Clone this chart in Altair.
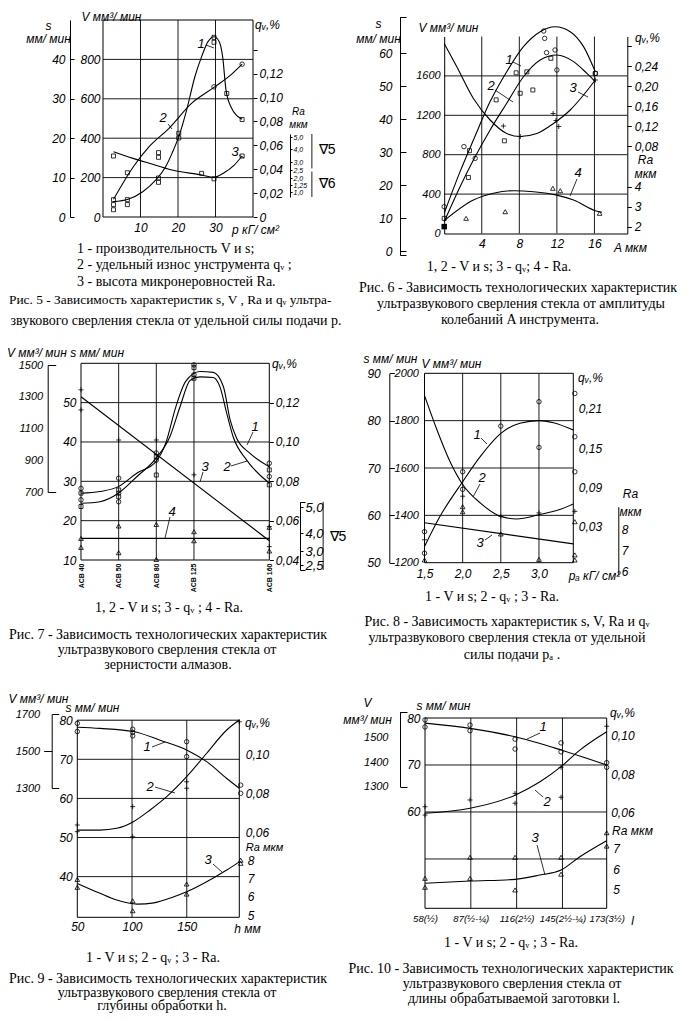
import altair as alt
import pandas as pd

W, H, M = 677, 1005, 8
SANS = "Liberation Sans Narrow, Liberation Sans, Arial, sans-serif"
SERIF = "Liberation Serif, Times New Roman, serif"
COMMA2 = "replace(format(datum.value, '.2f'), '.', ',')"
COMMA1 = "replace(format(datum.value, '.1f'), '.', ',')"

# ================= data =================
# ---- Fig. 5 (x = p, kG/cm2)
f5_V_cx = [2.8, 6.7, 10.6, 14.1, 16.7, 18.4, 20.2, 22.3, 24.5, 26.3, 28.0, 29.6, 31.0, 31.9, 32.8, 34.1, 37.1]
f5_V_cy = [78, 90, 128, 188, 255, 323, 408, 543, 712, 814, 890, 915, 890, 814, 645, 560, 496]
f5_V_px = [2.8, 2.8, 2.8, 6.5, 6.5, 14.8, 14.8, 20.2, 20.2, 29.6, 29.6, 33.0, 37.1]
f5_V_py = [88, 63, 37, 88, 63, 198, 176, 425, 401, 912, 887, 627, 495]
f5_q_cx = [2.8, 8.1, 12.3, 17.6, 23.6, 29.6, 34.1, 37.1]
f5_q_cy = [0.0148, 0.0421, 0.0589, 0.0743, 0.0952, 0.1086, 0.119, 0.128]
f5_q_px = [29.6, 37.1]
f5_q_py = [0.109, 0.128]
f5_Ra_cx = [2.8, 8.0, 12.3, 18.4, 26.3, 29.6, 32.3, 35.0, 37.1]
f5_Ra_cy = [3.79, 3.28, 2.92, 2.5, 2.19, 2.04, 2.33, 2.81, 3.46]
f5_Ra_px = [2.8, 6.5, 14.8, 14.8, 26.3, 29.6, 37.1]
f5_Ra_py = [3.46, 2.33, 3.72, 3.36, 2.29, 1.91, 3.46]
f5_x_ticks = [10, 20, 30]
f5_V_ticks = [0, 200, 400, 600, 800]
f5_s_ticks = [0, 10, 20, 30, 40]
f5_q_ticks = [0, 0.02, 0.04, 0.06, 0.08, 0.10, 0.12, 0.14]
f5_Ra_ticks = [1, 1.25, 2, 2.5, 3, 4, 5]

# ---- Fig. 6 (x = A, mkm)
f6_V_cx = [0, 1.69, 3.11, 4.89, 6.66, 8.44, 10.22, 11.82, 13.42, 14.84, 16.09]
f6_V_cy = [205, 628, 949, 1339, 1643, 1897, 2049, 2099, 2049, 1897, 1643]
f6_V_px = [0, 2.1, 3.3, 10.6, 10.7, 10.9, 11.8, 12.0, 16.1]
f6_V_py = [272, 882, 763, 2056, 1981, 1836, 1863, 1660, 1626]
f6_s_cx = [0, 1.69, 3.11, 4.89, 6.66, 8.44, 10.22, 12.0, 13.78, 15.2, 16.09]
f6_s_cy = [8.9, 19.5, 27.6, 36.7, 44.8, 52.8, 57.9, 59.4, 57.4, 53.8, 51.3]
f6_s_px = [0, 2.69, 2.58, 5.53, 7.66, 8.09, 8.8, 9.44, 11.36, 16.09, 6.41]
f6_s_py = [9.9, 30.4, 22.3, 45.8, 54.0, 47.8, 54.3, 48.8, 58.4, 53.8, 33.4]
f6_s_fx = [0]
f6_s_fy = [7.4]
f6_q_cx = [0, 1.33, 3.11, 4.89, 6.66, 8.09, 9.87, 11.64, 13.42, 14.84, 16.09]
f6_q_cy = [0.285, 0.239, 0.175, 0.132, 0.105, 0.099, 0.105, 0.125, 0.152, 0.182, 0.212]
f6_q_px = [6.3, 8.1, 11.6, 11.9, 12.2, 16.1]
f6_q_py = [0.12, 0.099, 0.145, 0.131, 0.119, 0.212]
f6_Ra_cx = [0, 3.11, 5.24, 7.38, 9.51, 12.0, 13.78, 16.09, 16.8]
f6_Ra_cy = [2.3, 3.33, 3.67, 3.8, 3.75, 3.58, 3.33, 2.8, 2.72]
f6_Ra_px = [2.33, 6.5, 11.57, 12.36, 16.55]
f6_Ra_py = [2.42, 2.75, 3.92, 3.8, 2.67]
f6_x_ticks = [4, 8, 12, 16]
f6_V_ticks = [0, 400, 800, 1200, 1600]
f6_s_ticks = [0, 10, 20, 30, 40, 50, 60]
f6_q_ticks = [0.08, 0.12, 0.16, 0.20, 0.24, 0.28]
f6_Ra_ticks = [2, 3, 4]

# ---- Fig. 7 (x = diamond grit, categorical positions)
f7_grit = ["АСВ 40", "АСВ 50", "АСВ 80", "АСВ 125", "", "АСВ 160"]
f7_x_ticks = [0, 1, 2, 3, 5]
f7_V_cx = [0, 0.505, 0.991, 1.48, 1.99, 2.36, 2.63, 2.9, 3.16, 3.51, 3.69, 3.87, 4.04, 4.4, 5.0]
f7_V_cy = [629, 639, 692, 796, 912, 1048, 1237, 1404, 1425, 1421, 1362, 1195, 1048, 901, 755]
f7_s_cx = [0, 0.505, 0.991, 1.48, 1.99, 2.25, 2.52, 2.78, 3.16, 3.51, 3.78, 3.96, 4.13, 4.49, 5.0]
f7_s_cy = [26.97, 27.4, 28.65, 32.06, 35.0, 39.7, 49.0, 55.4, 57.9, 57.7, 54.1, 45.6, 41.0, 37.1, 33.7]
f7_c_px = [0, 0, 1, 1, 1, 2, 2, 3, 3, 5, 5]
f7_c_py = [28.2, 25.3, 30.8, 27.0, 24.8, 37.2, 35.4, 59.6, 57.1, 34.6, 31.2]
f7_sq_px = [0, 0, 1, 1, 2, 2, 3, 3, 5, 5]
f7_sq_py = [27.0, 23.6, 27.8, 26.1, 36.3, 31.6, 58.9, 56.2, 32.9, 29.1]
f7_q_cx = [0, 5]
f7_q_cy = [0.123, 0.0498]
f7_q_px = [0, 0, 1, 2, 3, 5, 5]
f7_q_py = [0.1265, 0.1163, 0.101, 0.101, 0.0833, 0.057, 0.0468]
f7_Ra_cx = [0, 5]
f7_Ra_cy = [3.7, 3.7]
f7_Ra_px = [0, 0, 1, 1, 2, 2, 3, 3, 5, 5]
f7_Ra_py = [3.7, 3.2, 4.27, 2.94, 4.33, 2.7, 4.05, 3.57, 4.22, 3.0]
f7_V_ticks = [700, 900, 1100, 1300, 1500]
f7_s_ticks = [10, 20, 30, 40, 50]
f7_q_ticks = [0.04, 0.06, 0.08, 0.10, 0.12]
f7_Ra_ticks = [2.5, 3, 4, 5]

# ---- Fig. 8 (x = p_a, kG/cm2)
f8_V_cx = [1.5, 1.7, 2.0, 2.23, 2.5, 2.75, 3.0, 3.19, 3.45]
f8_V_cy = [1268, 1394, 1542, 1648, 1746, 1789, 1800, 1791, 1760]
f8_V_px = [1.5, 1.5, 2.0, 2.0, 2.5, 3.0, 3.0, 3.47, 3.47, 3.47]
f8_V_py = [1331, 1240, 1584, 1510, 1777, 1880, 1687, 1915, 1732, 1584]
f8_q_cx = [1.5, 1.66, 1.84, 2.0, 2.23, 2.5, 2.71, 3.0, 3.27, 3.45]
f8_q_cy = [0.2306, 0.179, 0.128, 0.0943, 0.066, 0.0454, 0.0414, 0.048, 0.0558, 0.0645]
f8_q_px = [1.5, 2.0, 2.5, 3.0, 3.47]
f8_q_py = [0.0095, 0.0763, 0.0454, 0.0507, 0.0531]
f8_Ra_cx = [1.5, 3.45]
f8_Ra_cy = [8.31, 7.31]
f8_Ra_px = [1.5, 2.0, 2.0, 2.5, 3.0, 3.47, 3.47, 3.47]
f8_Ra_py = [6.55, 9.07, 8.83, 7.78, 6.58, 8.36, 6.79, 6.55]
f8_x_ticks = [1.5, 2.0, 2.5, 3.0]
f8_V_ticks = [1200, 1400, 1600, 1800, 2000]
f8_s_ticks = [50, 60, 70, 80, 90]
f8_q_ticks = [0.03, 0.09, 0.15, 0.21]
f8_Ra_ticks = [6, 7, 8]

# ---- Fig. 9 (x = h, mm)
f9_s_cx = [50, 70.7, 101.2, 125.6, 149.9, 168.2, 186.5, 198]
f9_s_cy = [78.2, 77.9, 77.1, 74.9, 72.4, 69.4, 65.1, 62.6]
f9_s_px = [50, 50, 100.6, 100.6, 100.6, 149.9, 149.9, 199.3, 199.3]
f9_s_py = [79.2, 77.1, 77.7, 76.9, 76.0, 74.5, 70.7, 63.4, 61.3]
f9_q_cx = [50, 70.7, 86, 101.2, 116.5, 131.7, 149.9, 168.2, 186.5, 198]
f9_q_cy = [0.0638, 0.0638, 0.0647, 0.0681, 0.0741, 0.0809, 0.0911, 0.1031, 0.115, 0.1201]
f9_q_px = [50, 50, 100.6, 100.6, 149.9, 149.9, 198]
f9_q_py = [0.0664, 0.063, 0.0758, 0.0604, 0.0885, 0.0852, 0.1192]
f9_Ra_cx = [50, 70.7, 86, 104.8, 120, 138.3, 149.9, 168.2, 186.5, 198]
f9_Ra_cy = [6.63, 6.09, 5.72, 5.5, 5.57, 5.9, 6.17, 6.72, 7.36, 7.81]
f9_Ra_px = [50, 50, 100.6, 100.6, 149.9, 149.9, 199.3, 199.3]
f9_Ra_py = [6.85, 6.42, 5.68, 5.14, 6.6, 6.05, 7.9, 7.73]
f9_x_ticks = [50, 100, 150]
f9_s_ticks = [40, 50, 60, 70, 80]
f9_V_ticks = [1300, 1500, 1700]
f9_q_ticks = [0.06, 0.08, 0.10]
f9_Ra_ticks = [5, 6, 7, 8]

# ---- Fig. 10 (x = l)
f10_x_ticks = [58, 87, 116, 145, 173]
f10_x_names = ["58(½)", "87(½-¼)", "116(2½)", "145(2½-¼)", "173(3½)"]
f10_s_cx = [58, 86.5, 115, 144.1, 173]
f10_s_cy = [78.9, 77.8, 76.0, 73.2, 70.0]
f10_s_px = [58, 58, 86.5, 86.5, 115, 115, 144.1, 144.1, 173, 173]
f10_s_py = [79.6, 78.1, 78.5, 77.3, 75.5, 73.4, 74.7, 72.8, 70.5, 69.5]
f10_q_cx = [58, 86.5, 115, 130.8, 144.1, 156, 173]
f10_q_cy = [0.0597, 0.0623, 0.0691, 0.076, 0.0838, 0.0924, 0.1019]
f10_q_px = [58, 58, 86.5, 115, 115, 144.1, 144.1, 173]
f10_q_py = [0.0631, 0.0588, 0.0666, 0.07, 0.0649, 0.0835, 0.068, 0.1047]
f10_Ra_cx = [58, 86.5, 115, 130.8, 144.1, 156, 173]
f10_Ra_cy = [5.32, 5.43, 5.51, 5.72, 5.96, 6.6, 7.37]
f10_Ra_px = [58, 58, 86.5, 86.5, 115, 115, 144.1, 144.1, 173, 173]
f10_Ra_py = [5.56, 5.13, 5.56, 6.57, 6.57, 5.0, 6.57, 5.76, 7.75, 7.11]
f10_s_ticks = [60, 70, 80]
f10_V_ticks = [1300, 1400, 1500]
f10_q_ticks = [0.06, 0.08, 0.10]
f10_Ra_ticks = [5, 6, 7]

QV = "q\u1d65"
# (text, x, y, align, font size)
captions = [
    ("1 - производительность V и s;", 77, 249, "left", 14),
    ("2 - удельный износ унструмента " + QV + " ;", 77, 265, "left", 14),
    ("3 - высота микронеровностей Ra.", 77, 282, "left", 14),
    ("Рис. 5 - Зависимость характеристик s, V , Ra и " + QV + "  ультра-", 9, 300, "left", 13.4),
    ("звукового сверления стекла от удельной силы подачи р.", 176, 321, "center", 14),
    ("1, 2 - V и s; 3 - " + QV + "; 4 - Ra.", 499, 267, "center", 14),
    ("Рис. 6 - Зависимость технологических характеристик", 518, 288, "center", 14),
    ("ультразвукового сверления стекла от амплитуды", 521, 304, "center", 14),
    ("колебаний A инструмента.", 520, 320, "center", 14),
    ("1, 2 - V и s; 3 - " + QV + " ; 4 - Ra.", 169, 608, "center", 14),
    ("Рис. 7 - Зависимость технологических характеристик", 168, 635, "center", 14),
    ("ультразвукового сверления стекла от", 167, 650, "center", 14),
    ("зернистости алмазов.", 168, 665, "center", 14),
    ("1 - V и s; 2 - " + QV + " ; 3 - Ra.", 492, 597, "center", 14),
    ("Рис. 8 - Зависимость характеристик s, V, Ra и " + QV, 507, 622, "center", 14),
    ("ультразвукового сверления стекла от удельной", 507, 638, "center", 14),
    ("силы подачи p\u2090 .", 512, 655, "center", 14),
    ("1 - V и s; 2 - " + QV + " ; 3 - Ra.", 153, 958, "center", 14),
    ("Рис. 9 - Зависимость технологических характеристик", 168, 979, "center", 14),
    ("ультразвукового сверления стекла от", 167, 993, "center", 14),
    ("глубины обработки h.", 162, 1006, "center", 14),
    ("1 - V и s; 2 - " + QV + " ; 3 - Ra.", 511, 943, "center", 14),
    ("Рис. 10 - Зависимость технологических характеристик", 511, 969, "center", 14),
    ("ультразвукового сверления стекла от", 512, 984, "center", 14),
    ("длины обрабатываемой заготовки l.", 514, 999, "center", 14),
]
curve_nums = [("1", 201, 44), ("2", 163, 118), ("3", 235, 152),
              ("1", 509, 60), ("2", 491, 86), ("3", 573, 88), ("4", 578, 173),
              ("1", 255, 427), ("2", 227, 467), ("3", 205, 467), ("4", 172, 512),
              ("1", 477, 435), ("2", 482, 478), ("3", 480, 543),
              ("1", 147, 747), ("2", 150, 787), ("3", 208, 860),
              ("1", 543, 727), ("2", 547, 802), ("3", 535, 838)]
leaders = [(206, 45, 214, 48), (168, 124, 172, 129), (239, 155, 244, 158),
           (513, 62, 521, 66), (495, 90, 513, 102), (578, 92, 588, 97), (577, 179, 570, 196),
           (253, 432, 247, 445), (231, 466, 247, 461), (203, 472, 200, 482), (170, 517, 165, 538),
           (481, 438, 487, 444), (480, 484, 473, 497), (485, 540, 492, 535),
           (152, 747, 165, 742), (155, 787, 175, 793), (213, 864, 222, 872),
           (540, 733, 527, 739), (543, 797, 535, 790), (537, 845, 545, 875)]

# ================= helpers =================
layers = []


def scale(dom, rng):
    return alt.Scale(domain=list(dom), range=[round(r - M, 2) for r in rng], zero=False, nice=False)


def XY(X, Y, xa=None, ya=None):
    return dict(x=alt.X("x:Q", scale=X, axis=xa), y=alt.Y("y:Q", scale=Y, axis=ya))


def add_line(xs, ys, X, Y, width=1.1, interp="monotone"):
    df = pd.DataFrame({"x": xs, "y": ys})
    layers.append(alt.Chart(df).mark_line(color="black", strokeWidth=width, interpolate=interp)
                  .encode(**XY(X, Y)))


PLUS = "M-1,0L1,0M0,-1L0,1"


def add_pts(xs, ys, X, Y, shape="circle", size=20, filled=False):
    df = pd.DataFrame({"x": xs, "y": ys})
    layers.append(alt.Chart(df).mark_point(shape=shape, size=size, filled=filled, color="black",
                                           strokeWidth=0.8, opacity=1).encode(**XY(X, Y)))


def add_vgrid(vals, y0, y1, X, Y, w=0.9):
    df = pd.DataFrame({"x": vals, "y": [y0] * len(vals), "y2": [y1] * len(vals)})
    layers.append(alt.Chart(df).mark_rule(color="black", strokeWidth=w)
                  .encode(**XY(X, Y), y2="y2:Q"))


def add_hgrid(vals, x0, x1, X, Y, w=0.9):
    df = pd.DataFrame({"y": vals, "x": [x0] * len(vals), "x2": [x1] * len(vals)})
    layers.append(alt.Chart(df).mark_rule(color="black", strokeWidth=w)
                  .encode(**XY(X, Y), x2="x2:Q"))


def add_frame(x0, x1, y0, y1, X, Y):
    df = pd.DataFrame({"x": [x0], "x2": [x1], "y": [y0], "y2": [y1]})
    layers.append(alt.Chart(df).mark_rect(fillOpacity=0, stroke="black", strokeWidth=1)
                  .encode(**XY(X, Y), x2="x2:Q", y2="y2:Q"))


def add_axis(X, x0, Y, y0, xa=None, ya=None):
    df = pd.DataFrame({"x": [x0], "y": [y0]})
    layers.append(alt.Chart(df).mark_point(opacity=0).encode(**XY(X, Y, xa, ya)))


def add_dtext(s, x, y, X, Y, size=14, align="left"):
    df = pd.DataFrame({"x": [x], "y": [y]})
    layers.append(alt.Chart(df).mark_text(text=s, font=SANS, fontSize=size, align=align,
                                          baseline="middle", color="black").encode(**XY(X, Y)))


def yax(orient, xpos, values, expr=None, tick=0, pad=3, size=12, domain=False, labels=True,
        title="", tx=0, ty=0, tsize=12, lh=13, loff=0):
    off = -(xpos - M) if orient == "left" else (xpos - M) - W
    kw = dict(orient=orient, offset=off, values=list(values), tickSize=tick, ticks=tick > 0,
              domain=domain, domainColor="black", domainWidth=1, tickColor="black", tickWidth=1,
              labels=labels, labelColor="black", labelFont=SANS, labelFontSize=size,
              labelFontStyle="italic", labelPadding=pad, labelOverlap=False, labelFlush=False,
              labelOffset=loff, grid=False, title=title)
    if expr:
        kw["labelExpr"] = expr
    else:
        kw["format"] = "d"
    if title:
        kw.update(titleX=tx - xpos, titleY=ty - M, titleAngle=0, titleAlign="center",
                  titleBaseline="middle", titleFont=SANS, titleFontSize=tsize,
                  titleFontStyle="italic", titleFontWeight="normal", titleColor="black",
                  titleLineHeight=lh)
    return alt.Axis(**kw)


def xax(ypos, values, expr=None, tick=0, pad=4, size=12, domain=False, title="", tx=0, ty=0,
        angle=0, bold=False):
    off = (ypos - M) - H
    kw = dict(orient="bottom", offset=off, values=list(values), tickSize=tick, ticks=tick > 0,
              domain=domain, domainColor="black", domainWidth=1, tickColor="black",
              labelColor="black", labelFont=SANS, labelFontSize=size,
              labelFontStyle="normal" if bold else "italic",
              labelFontWeight="bold" if bold else "normal",
              labelPadding=pad, labelOverlap=False, labelFlush=False, grid=False, title=title)
    if angle:
        kw.update(labelAngle=angle, labelAlign="right", labelBaseline="middle")
    if expr:
        kw["labelExpr"] = expr
    else:
        kw["format"] = "d"
    if title:
        kw.update(titleX=tx - M, titleY=ty - ypos, titleAngle=0, titleAlign="center",
                  titleBaseline="middle", titleFont=SANS, titleFontSize=12,
                  titleFontStyle="italic", titleFontWeight="normal", titleColor="black")
    return alt.Axis(**kw)


VT = "V мм³/ мин"
ST = "s мм/ мин"
QT = QV + ",%"

# ================= Fig. 5 =================
X5 = scale([0, 40], [103, 253])
V5 = scale([0, 1000], [217, 20])
S5 = scale([0, 50], [217, 20])
Q5 = scale([0, 0.165], [217, 20])
R5 = scale([0.85, 1, 1.25, 2, 2.5, 3, 4, 5, 5.25], [197, 192, 185, 178, 170, 162, 149, 137, 134])
add_vgrid(f5_x_ticks, 0, 1000, X5, V5)
add_hgrid(f5_V_ticks[1:], 0, 40, X5, V5)
add_frame(0, 40, 0, 1000, X5, V5)
add_line(f5_V_cx, f5_V_cy, X5, V5)
add_pts(f5_V_px, f5_V_py, X5, V5, "square", 16)
add_line(f5_q_cx, f5_q_cy, X5, Q5)
add_pts(f5_q_px, f5_q_py, X5, Q5, "circle", 20)
add_line(f5_Ra_cx, f5_Ra_cy, X5, R5)
add_pts(f5_Ra_px, f5_Ra_py, X5, R5, "square", 16)
add_axis(X5, 0, V5, 0,
         xa=xax(217, f5_x_ticks, pad=5, title="p кГ/ см²", tx=255, ty=229),
         ya=yax("left", 103, f5_V_ticks, pad=3, title=VT, tx=111, ty=16))
add_axis(X5, 0, S5, 0, ya=yax("left", 70, f5_s_ticks, pad=5, domain=True,
                              title=["s", "мм/ мин"], tx=48, ty=25))
add_axis(X5, 0, S5, 0, ya=yax("right", 70, f5_s_ticks, tick=4, labels=False))
add_axis(X5, 0, Q5, 0, ya=yax("right", 253, f5_q_ticks, tick=4, pad=2,
                              expr="datum.value == 0 ? '0' : datum.value > 0.13 ? '' : " + COMMA2,
                              title=QT, tx=267, ty=24))
add_axis(X5, 0, R5, 1, ya=yax("right", 290, f5_Ra_ticks, tick=2, pad=1, size=7, domain=True,
                              expr="datum.value == 1.25 ? '1,25' : " + COMMA1,
                              title=["Ra", "мкм"], tx=298, ty=111, tsize=10, lh=13))
add_vgrid([55.7], 5.25, 2.6, X5, R5)
add_vgrid([55.7], 2.4, 0.85, X5, R5)
add_dtext("∇5", 57.5, 3.9, X5, R5)
add_dtext("∇6", 57.5, 1.4, X5, R5)

# ================= Fig. 6 =================
X6 = scale([0, 19.5], [444.2, 627.3])
V6 = scale([0, 2000], [233.5, 36.5])
S6 = scale([-1.2, 71], [255, 16.7])
Q6 = scale([-0.095, 0.299], [233.5, 36.5])
R6 = scale([1.66, 11.51], [233.5, 36.5])
add_vgrid(f6_x_ticks, 0, 2000, X6, V6)
add_hgrid(f6_V_ticks[1:], 0, 19.5, X6, V6)
add_line(f6_V_cx, f6_V_cy, X6, V6)
add_pts(f6_V_px, f6_V_py, X6, V6, "circle", 20)
add_line(f6_s_cx, f6_s_cy, X6, S6)
add_pts(f6_s_px, f6_s_py, X6, S6, "square", 16)
add_pts(f6_s_fx, f6_s_fy, X6, S6, "square", 30, filled=True)
add_line(f6_q_cx, f6_q_cy, X6, Q6)
add_pts(f6_q_px, f6_q_py, X6, Q6, PLUS, 25)
add_line(f6_Ra_cx, f6_Ra_cy, X6, R6)
add_pts(f6_Ra_px, f6_Ra_py, X6, R6, "triangle-up", 22)
add_axis(X6, 0, V6, 0,
         xa=xax(233.5, f6_x_ticks, pad=5, domain=True, title="A мкм", tx=630, ty=247),
         ya=yax("left", 444.2, f6_V_ticks, pad=4, size=11, domain=True, title=VT, tx=448, ty=27))
add_axis(X6, 0, S6, 0, ya=yax("left", 400, f6_s_ticks, pad=8, domain=True,
                              title=["s", "мм/ мин"], tx=378, ty=23, lh=15))
add_axis(X6, 0, S6, 0, ya=yax("right", 400, [-1.2] + f6_s_ticks + [71], tick=6, labels=False))
add_axis(X6, 0, Q6, 0.1, ya=yax("right", 627.3, f6_q_ticks, tick=4, pad=3, domain=True,
                                expr="datum.value > 0.26 ? '' : " + COMMA2,
                                title=QT, tx=647, ty=37))
add_axis(X6, 0, R6, 2, ya=yax("right", 627.3, f6_Ra_ticks, tick=4, pad=3,
                              title=["Ra", "мкм"], tx=645, ty=159, lh=14))

# ================= Fig. 7 =================
X7 = scale([0, 5], [81, 269.3])
V7 = scale([700, 1500], [492, 365])
S7 = scale([10, 60], [560, 363.3])
Q7 = scale([0.04, 0.14], [560, 363.3])
R7 = scale([2.33, 2.5, 3, 4, 5, 5.2], [570, 565, 551, 533, 507, 501.8])
add_vgrid([1, 2, 3], 10, 60, X7, S7)
add_hgrid([20, 30, 40, 50], 0, 5, X7, S7)
add_frame(0, 5, 10, 60, X7, S7)
add_line(f7_V_cx, f7_V_cy, X7, V7)
add_line(f7_s_cx, f7_s_cy, X7, S7)
add_pts(f7_c_px, f7_c_py, X7, S7, "circle", 20)
add_pts(f7_sq_px, f7_sq_py, X7, S7, "square", 16)
add_line(f7_q_cx, f7_q_cy, X7, Q7, interp="linear")
add_pts(f7_q_px, f7_q_py, X7, Q7, PLUS, 25)
add_line(f7_Ra_cx, f7_Ra_cy, X7, R7, width=1.4, interp="linear")
add_pts(f7_Ra_px, f7_Ra_py, X7, R7, "triangle-up", 22)
grit_expr = "[" + ",".join("'" + g + "'" for g in f7_grit) + "][datum.value]"
add_axis(X7, 0, S7, 10,
         xa=xax(560, f7_x_ticks, expr=grit_expr, pad=3, size=7, angle=270, bold=True),
         ya=yax("left", 81, f7_s_ticks, pad=5, title=VT + "  " + ST, tx=65, ty=352))
add_axis(X7, 0, V7, 700, ya=yax("left", 47.7, f7_V_ticks, pad=5, size=11, domain=True))
add_axis(X7, 0, V7, 700, ya=yax("right", 47.7, [700, 1500], tick=8, labels=False))
add_axis(X7, 0, Q7, 0.04, ya=yax("right", 269.3, f7_q_ticks, tick=4, pad=2, expr=COMMA2,
                                 title=QT, tx=284, ty=363))
add_axis(X7, 0, R7, 3, ya=yax("right", 300, f7_Ra_ticks, tick=3, pad=2, size=13, domain=True,
                              expr=COMMA1))
add_axis(X7, 0, R7, 3, ya=yax("right", 300, [2.33, 5.2], tick=5, labels=False))
add_vgrid([6.43], 5.2, 2.33, X7, R7)
add_dtext("∇5", 6.6, 3.8, X7, R7)

# ================= Fig. 8 =================
X8 = scale([1.5, 3.45], [424.5, 573.3])
V8 = scale([1200, 2000], [562.7, 373.3])
S8 = scale([50, 90], [562.7, 373.3])
Q8 = scale([-0.0256, 0.2647], [562.7, 373.3])
R8 = scale([5.84, 9.07], [575, 506.7])
add_vgrid([2.0, 2.5, 3.0], 1200, 2000, X8, V8)
add_hgrid([1400, 1600, 1800], 1.5, 3.45, X8, V8)
add_frame(1.5, 3.45, 1200, 2000, X8, V8)
add_line(f8_V_cx, f8_V_cy, X8, V8)
add_pts(f8_V_px, f8_V_py, X8, V8, "circle", 20)
add_line(f8_q_cx, f8_q_cy, X8, Q8)
add_pts(f8_q_px, f8_q_py, X8, Q8, PLUS, 25)
add_line(f8_Ra_cx, f8_Ra_cy, X8, R8, interp="linear")
add_pts(f8_Ra_px, f8_Ra_py, X8, R8, "triangle-up", 22)
add_axis(X8, 1.5, V8, 1200,
         xa=xax(562.7, f8_x_ticks, expr=COMMA1, pad=6, title="p\u2090 кГ/ см²", tx=594, ty=575),
         ya=yax("left", 424.5, f8_V_ticks, pad=6, size=11, title=VT, tx=451, ty=363))
add_axis(X8, 1.5, S8, 50, ya=yax("left", 389.3, f8_s_ticks, pad=9, domain=True,
                                 title=ST, tx=390, ty=358))
add_axis(X8, 1.5, S8, 50, ya=yax("right", 389.3, f8_s_ticks, tick=5, labels=False))
add_axis(X8, 1.5, Q8, 0.03, ya=yax("right", 573.3, f8_q_ticks, pad=5, expr=COMMA2,
                                   title=QT, tx=590, ty=377))
add_axis(X8, 1.5, R8, 6, ya=yax("right", 618.3, f8_Ra_ticks, pad=3, domain=True,
                                title=["Ra", "мкм"], tx=630, ty=493, lh=18))

# ================= Fig. 9 =================
X9 = scale([50, 198], [77.3, 239.3])
S9 = scale([29.6, 80], [917.3, 720.2])
V9 = scale([1300, 1700], [788, 714])
Q9 = scale([0.0192, 0.12], [917.3, 720.2])
R9 = scale([4.78, 15.55], [917.3, 720.2])
add_vgrid([100, 150], 29.6, 80, X9, S9)
add_hgrid([40, 50, 60, 70], 50, 198, X9, S9)
add_frame(50, 198, 29.6, 80, X9, S9)
add_line(f9_s_cx, f9_s_cy, X9, S9)
add_pts(f9_s_px, f9_s_py, X9, S9, "circle", 20)
add_line(f9_q_cx, f9_q_cy, X9, Q9)
add_pts(f9_q_px, f9_q_py, X9, Q9, PLUS, 25)
add_line(f9_Ra_cx, f9_Ra_cy, X9, R9)
add_pts(f9_Ra_px, f9_Ra_py, X9, R9, "triangle-up", 22)
add_axis(X9, 50, S9, 40,
         xa=xax(917.3, f9_x_ticks, pad=4, title="h мм", tx=247, ty=928),
         ya=yax("left", 77.3, f9_s_ticks, pad=5, title=ST, tx=92, ty=707))
add_axis(X9, 50, V9, 1300, ya=yax("left", 51.7, f9_V_ticks, pad=12, size=11, domain=True,
                                  title=VT, tx=38, ty=698))
add_axis(X9, 50, V9, 1300, ya=yax("left", 51.7, [1500], tick=8, labels=False))
add_axis(X9, 50, V9, 1300, ya=yax("right", 51.7, [1300, 1700], tick=7, labels=False))
add_axis(X9, 50, Q9, 0.06, ya=yax("right", 239.3, f9_q_ticks, pad=6, expr=COMMA2, loff=-5,
                                  title=QT, tx=257, ty=722))
add_axis(X9, 50, R9, 5, ya=yax("right", 239.3, f9_Ra_ticks, pad=8, loff=2,
                               title="Ra мкм", tx=264, ty=847.5, tsize=11))

# ================= Fig. 10 =================
X10 = scale([58, 173], [425, 606.7])
S10 = scale([39.5, 80], [908.3, 718])
V10 = scale([1300, 1604], [786.7, 711.7])
Q10 = scale([0.0106, 0.1083], [908.3, 719.3])
R10 = scale([4.12, 13.2], [908.3, 719.3])
add_vgrid(f10_x_ticks[1:4], 39.5, 80, X10, S10)
add_hgrid([50, 60, 70], 58, 173, X10, S10)
add_frame(58, 173, 39.5, 80, X10, S10)
add_line(f10_s_cx, f10_s_cy, X10, S10)
add_pts(f10_s_px, f10_s_py, X10, S10, "circle", 20)
add_line(f10_q_cx, f10_q_cy, X10, Q10)
add_pts(f10_q_px, f10_q_py, X10, Q10, PLUS, 25)
add_line(f10_Ra_cx, f10_Ra_cy, X10, R10)
add_pts(f10_Ra_px, f10_Ra_py, X10, R10, "triangle-up", 22)
l_expr = "".join("datum.value == %s ? '%s' : " % (v, n) for v, n in zip(f10_x_ticks, f10_x_names)) + "''"
add_axis(X10, 58, S10, 60,
         xa=xax(908.3, f10_x_ticks, expr=l_expr, pad=5, size=9.5, title="l", tx=632, ty=920),
         ya=yax("left", 425, f10_s_ticks, pad=5, title=ST, tx=443, ty=705))
add_axis(X10, 58, V10, 1300, ya=yax("left", 400, f10_V_ticks, pad=12, size=11, domain=True,
                                    title=["V", "мм³/ мин"], tx=367, ty=702, lh=17))
add_axis(X10, 58, V10, 1300, ya=yax("right", 400, [1300, 1604], tick=7, labels=False))
add_axis(X10, 58, Q10, 0.06, ya=yax("right", 606.7, f10_q_ticks, pad=4, expr=COMMA2,
                                    title=QT, tx=622, ty=712))
add_axis(X10, 58, R10, 5, ya=yax("right", 606.7, f10_Ra_ticks, pad=6,
                                 title="Ra мкм", tx=632, ty=830))

# ================= annotations =================
dummy = pd.DataFrame({"k": [0]})
for t, x, y, al, fs in captions:
    layers.append(alt.Chart(dummy).mark_text(text=t, font=SERIF, fontSize=fs, align=al,
                                             baseline="middle", color="black")
                  .encode(x=alt.value(x - M), y=alt.value(y - M)))
for t, x, y in curve_nums:
    layers.append(alt.Chart(dummy).mark_text(text=t, font=SANS, fontSize=13, fontStyle="italic",
                                             align="center", baseline="middle", color="black")
                  .encode(x=alt.value(x - M), y=alt.value(y - M)))
for x1, y1, x2, y2 in leaders:
    layers.append(alt.Chart(dummy).mark_rule(color="black", strokeWidth=0.8)
                  .encode(x=alt.value(x1 - M), y=alt.value(y1 - M),
                          x2=alt.value(x2 - M), y2=alt.value(y2 - M)))

chart = (alt.layer(*layers)
         .resolve_scale(x="independent", y="independent")
         .properties(width=W, height=H, autosize=alt.AutoSizeParams(type="none"), padding=0,
                     background="white")
         .configure_view(stroke=None))

chart.save("out.html", embed_options={"renderer": "svg", "actions": False})
